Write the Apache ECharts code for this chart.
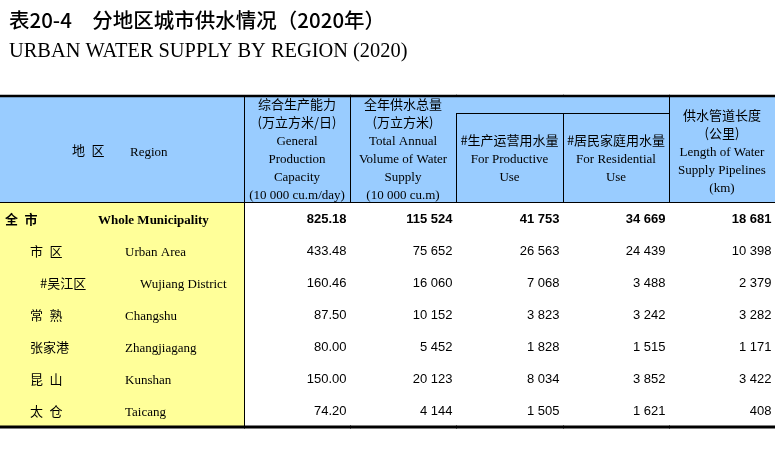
<!DOCTYPE html>
<html><head><meta charset="utf-8">
<script src="https://cdn.jsdelivr.net/npm/echarts@6/dist/echarts.min.js"></script>
<style>html,body{margin:0;padding:0;background:#fff}#c{width:775px;height:460px}</style>
</head><body><div id="c"></div>
<script>
// ---- data ----
const titleCN = '表20-4\u3000分地区城市供水情况（2020年）';
const titleEN = 'URBAN WATER SUPPLY BY REGION (2020)';
const regionHeaderCN = '地 区';
const regionHeaderEN = 'Region';
const regionsCN = ['全 市', '市 区', '#吴江区', '常 熟', '张家港', '昆 山', '太 仓'];
const regionsEN = ['Whole Municipality', 'Urban Area', 'Wujiang District', 'Changshu', 'Zhangjiagang', 'Kunshan', 'Taicang'];
const regionLevel = [0, 1, 2, 1, 1, 1, 1];
const columns = ['capacity', 'total', 'productive', 'residential', 'pipelines'];
const headerCapacity = ['综合生产能力', '(万立方米/日)', 'General', 'Production', 'Capacity', '(10 000 cu.m/day)'];
const headerTotal = ['全年供水总量', '(万立方米)', 'Total Annual', 'Volume of Water', 'Supply', '(10 000 cu.m)'];
const headerProductive = ['#生产运营用水量', 'For Productive', 'Use'];
const headerResidential = ['#居民家庭用水量', 'For Residential', 'Use'];
const headerPipelines = ['供水管道长度', '(公里)', 'Length of Water', 'Supply Pipelines', '(km)'];
const capacity = [825.18, 433.48, 160.46, 87.50, 80.00, 150.00, 74.20];
const totalSupply = [115524, 75652, 16060, 10152, 5452, 20123, 4144];
const productiveUse = [41753, 26563, 7068, 3823, 1828, 8034, 1505];
const residentialUse = [34669, 24439, 3488, 3242, 1515, 3852, 1621];
const pipelines = [18681, 10398, 2379, 3282, 1171, 3422, 408];

// ---- styles ----
const BLUE = '#99CCFF', YELLOW = '#FFFF99', INK = '#000';
const CJK = '"Noto Sans CJK SC", sans-serif';
const SERIF = '"Liberation Serif", "Times New Roman", serif';
const SANS = '"Liberation Sans", Arial, sans-serif';
const isCJK = t => /[\u4e00-\u9fff]/.test(t);
const fmtInt = v => String(v).replace(/\B(?=(\d{3})+(?!\d))/g, ' ');
const headerLines = [headerCapacity, headerTotal, headerProductive, headerResidential, headerPipelines];
const cellText = [capacity.map(v => v.toFixed(2)), totalSupply.map(fmtInt), productiveUse.map(fmtInt), residentialUse.map(fmtInt), pipelines.map(fmtInt)];
const cnIndent = [5, 30, 40], enIndent = [98, 125, 140];
const SERIF_DY = 2;
const px = v => Math.round(v) + 0.5;
function hiddenAxis(extra) {
  return Object.assign({
    show: false,
    axisLine: { show: false }, axisTick: { show: false }, axisLabel: { show: false },
    splitLine: { show: false }, splitArea: { show: false }
  }, extra);
}

function hline(x1, x2, y, w) { return { type: 'line', shape: { x1, y1: y, x2, y2: y }, style: { stroke: INK, lineWidth: w } }; }
function vline(x, y1, y2) { return { type: 'line', shape: { x1: x, y1, x2: x, y2 }, style: { stroke: INK, lineWidth: 1 } }; }
function txt(t, x, y, align, family, weight) {
  const dy = family === SERIF ? SERIF_DY : 0;
  return { type: 'text', style: { text: t, x, y: y + dy, align, verticalAlign: 'middle', fontSize: 13, fontFamily: family, fontWeight: weight || 'normal', fill: INK } };
}

const chart = echarts.init(document.getElementById('c'));
const option = {
  animation: false,
  backgroundColor: '#ffffff',
  title: [
    { text: titleCN, left: 4, top: 5, textStyle: { fontFamily: CJK, fontSize: 20.5, fontWeight: 500, color: INK } },
    { text: titleEN, left: 4, top: 37, textStyle: { fontFamily: SERIF, fontSize: 20.4, fontWeight: 'normal', color: INK } }
  ],
  grid: [
    { left: 0, width: 244, top: 95, height: 108, show: false },
    { left: 244, right: 0, top: 95, height: 108, show: false },
    { left: 0, width: 244, top: 203, height: 224, show: false },
    { left: 244, right: 0, top: 203, height: 224, show: false }
  ],
  xAxis: [
    hiddenAxis({ gridIndex: 0, type: 'value', min: 0, max: 1 }),
    hiddenAxis({ gridIndex: 1, type: 'value', min: -0.5, max: columns.length - 0.5 }),
    hiddenAxis({ gridIndex: 2, type: 'value', min: 0, max: 1 }),
    hiddenAxis({ gridIndex: 3, type: 'value', min: -0.5, max: columns.length - 0.5 })
  ],
  yAxis: [
    hiddenAxis({ gridIndex: 0, type: 'value', min: 0, max: 6, inverse: true }),
    hiddenAxis({ gridIndex: 1, type: 'value', min: 0, max: 6, inverse: true }),
    hiddenAxis({ gridIndex: 2, type: 'category', data: regionsEN, inverse: true }),
    hiddenAxis({ gridIndex: 3, type: 'category', data: regionsEN, inverse: true })
  ],
  series: [
    { // region header
      type: 'custom', xAxisIndex: 0, yAxisIndex: 0, data: [[0, 0]], encode: { x: 0, y: 1 },
      renderItem(params, api) {
        const tl = api.coord([0, 0]), br = api.coord([1, 6]);
        const mid = (tl[1] + br[1]) / 2 + 1.5;
        return { type: 'group', children: [
          { type: 'rect', shape: { x: tl[0], y: tl[1], width: br[0] - tl[0] + 1, height: br[1] - tl[1] }, style: { fill: BLUE } },
          hline(tl[0], br[0], tl[1] + 1, 2.5),
          hline(tl[0], br[0], br[1] - 0.5, 1),
          txt(regionHeaderCN.replace(' ', '\u2002'), tl[0] + 72, mid, 'left', CJK),
          txt(regionHeaderEN, tl[0] + 130, mid, 'left', SERIF)
        ] };
      }
    },
    { // numeric column headers
      type: 'custom', xAxisIndex: 1, yAxisIndex: 1, data: columns.map((c, i) => [i, 0]), encode: { x: 0, y: 1 },
      renderItem(params, api) {
        const col = api.value(0);
        const c = api.coord([col, 0]);
        const bw = api.size([1, 0])[0];
        const slot = api.size([0, 1])[1];
        const left = Math.round(c[0] - bw / 2), right = Math.round(c[0] + bw / 2);
        const top = c[1], bottom = top + slot * 6;
        const split = col === 2 || col === 3;
        const children = [
          { type: 'rect', shape: { x: left, y: top, width: right - left + 1, height: bottom - top }, style: { fill: BLUE } },
          vline(left + 0.5, split ? top + slot : top, bottom),
          hline(left, right + 1, top + 1, 2.5),
          hline(left, right + 1, bottom - 0.5, 1)
        ];
        if (split) children.push(hline(left, right + 1, px(top + slot), 1));
        const lines = headerLines[col];
        const mid = split ? top + slot * 3.5 : top + slot * 3 + (lines.length === 5 ? 2 : 0);
        lines.forEach((t, i) => {
          const y = mid + (i - (lines.length - 1) / 2) * slot;
          children.push(txt(t, (left + right) / 2, y, 'center', isCJK(t) ? CJK : SERIF));
        });
        return { type: 'group', children };
      }
    },
    { // values
      type: 'custom', xAxisIndex: 3, yAxisIndex: 3,
      data: columns.flatMap((c, ci) => regionsEN.map((r, ri) => [ci, ri])), encode: { x: 0, y: 1 },
      renderItem(params, api) {
        const col = api.value(0), row = api.value(1);
        const c = api.coord([col, row]);
        const sz = api.size([1, 1]);
        const left = Math.round(c[0] - sz[0] / 2), right = Math.round(c[0] + sz[0] / 2), top = c[1] - sz[1] / 2;
        const children = [
          txt(cellText[col][row], right - 3.5, c[1], 'right', SANS, row === 0 ? 'bold' : 'normal')
        ];
        if (row === regionsEN.length - 1) children.push(hline(left, right + 1, top + sz[1], 3));
        return { type: 'group', children };
      }
    },
    { // region names
      type: 'custom', xAxisIndex: 2, yAxisIndex: 2, data: regionsEN.map((r, i) => [0, i]), encode: { x: 0, y: 1 },
      renderItem(params, api) {
        const row = api.value(1);
        const c0 = api.coord([0, row]), c1 = api.coord([1, row]);
        const rh = api.size([0, 1])[1];
        const top = c0[1] - rh / 2, bottom = top + rh;
        const lvl = regionLevel[row];
        const bold = lvl === 0 ? 'bold' : 'normal';
        const children = [
          { type: 'rect', shape: { x: c0[0], y: top, width: c1[0] - c0[0], height: rh }, style: { fill: YELLOW } },
          vline(px(c1[0]), top, bottom),
          txt(regionsCN[row].replace(' ', '\u2002'), c0[0] + cnIndent[lvl], c0[1], 'left', CJK, bold),
          txt(regionsEN[row], c0[0] + enIndent[lvl], c0[1], 'left', SERIF, bold)
        ];
        if (row === regionsEN.length - 1) children.push(hline(c0[0], c1[0] + 1, bottom, 3));
        return { type: 'group', children };
      }
    }
  ]
};
chart.setOption(option);
</script>
</body></html>
